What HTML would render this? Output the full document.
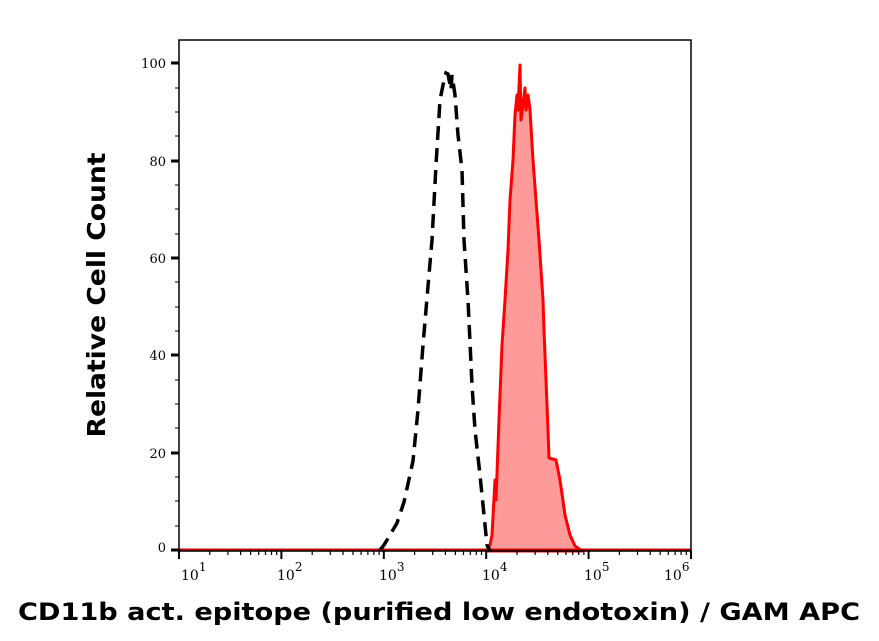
<!DOCTYPE html>
<html><head><meta charset="utf-8"><style>
body{margin:0;background:#fff;}
svg{display:block;}
</style></head><body>
<svg width="879" height="641" viewBox="0 0 879 641" xmlns="http://www.w3.org/2000/svg">
<defs>
<g id="dec" stroke="#000" stroke-width="1.2">
<line x1="0" y1="551" x2="0" y2="559" stroke-width="2"/>
<line x1="30.8" y1="551" x2="30.8" y2="555"/><line x1="48.9" y1="551" x2="48.9" y2="555"/><line x1="61.6" y1="551" x2="61.6" y2="555"/><line x1="71.6" y1="551" x2="71.6" y2="555"/><line x1="79.7" y1="551" x2="79.7" y2="555"/><line x1="86.5" y1="551" x2="86.5" y2="555"/><line x1="92.5" y1="551" x2="92.5" y2="555"/><line x1="97.7" y1="551" x2="97.7" y2="555"/>
</g>
</defs>
<rect width="879" height="641" fill="#fff"/>
<path d="M487,551 L490,545 L492,535 L495,480 L496,500 L499,420 L502,345 L505,300 L508,250 L510,200 L513,160 L515,115 L517,95 L518,110 L520,65 L521,120 L523,105 L525,88 L526,110 L528,95 L530,110 L533,160 L536,200 L539,240 L541,270 L543,300 L544,330 L546,380 L548,430 L549,458 L556,460 L560,480 L565,515 L570,535 L575,546 L582,551 Z" fill="#ff9a9a" stroke="#ff0000" stroke-width="3" stroke-linejoin="round"/>
<line x1="179" y1="550" x2="691" y2="550" stroke="#cc0000" stroke-width="3"/>
<path d="M380,550 L384,545 L390,535 L397,523 L404,502 L413,461 L418,410 L423,345 L427,298 L432,240 L436,165 L440,100 L443,85 L446,73 L448,74 L451,90 L452,75 L455,95 L458,135 L462,170 L464,240 L468,300 L472,385 L475,430 L480,475 L485,525 L487,545 L490,551" fill="none" stroke="#000" stroke-width="3.5" stroke-dasharray="14,8"/>
<rect x="179" y="40" width="512" height="511" fill="none" stroke="#000" stroke-width="1.5"/>
<g stroke="#000" stroke-width="3">
<line x1="171" y1="63" x2="179" y2="63"/><line x1="171" y1="161" x2="179" y2="161"/><line x1="171" y1="258" x2="179" y2="258"/><line x1="171" y1="355" x2="179" y2="355"/><line x1="171" y1="453" x2="179" y2="453"/><line x1="171" y1="550" x2="179" y2="550"/>
</g>
<g stroke="#000" stroke-width="1">
<line x1="175" y1="88" x2="179" y2="88"/><line x1="175" y1="112" x2="179" y2="112"/><line x1="175" y1="136" x2="179" y2="136"/>
<line x1="175" y1="185" x2="179" y2="185"/><line x1="175" y1="209" x2="179" y2="209"/><line x1="175" y1="234" x2="179" y2="234"/>
<line x1="175" y1="282" x2="179" y2="282"/><line x1="175" y1="307" x2="179" y2="307"/><line x1="175" y1="331" x2="179" y2="331"/>
<line x1="175" y1="380" x2="179" y2="380"/><line x1="175" y1="404" x2="179" y2="404"/><line x1="175" y1="428" x2="179" y2="428"/>
<line x1="175" y1="477" x2="179" y2="477"/><line x1="175" y1="501" x2="179" y2="501"/><line x1="175" y1="526" x2="179" y2="526"/>
</g>
<use href="#dec" x="179"/><use href="#dec" x="281.4"/><use href="#dec" x="383.8"/><use href="#dec" x="486.2"/><use href="#dec" x="588.6"/>
<line x1="691" y1="551" x2="691" y2="559" stroke="#000" stroke-width="2"/>
<g font-family="DejaVu Serif, serif" font-size="13" text-anchor="end" fill="#000">
<text x="166" y="68">100</text><text x="166" y="166">80</text><text x="166" y="263">60</text><text x="166" y="360">40</text><text x="166" y="458">20</text><text x="166" y="552">0</text>
</g>
<g font-family="DejaVu Serif, serif" font-size="14" fill="#000">
<text x="181" y="580">10<tspan font-size="12" dy="-9">1</tspan></text>
<text x="277" y="580">10<tspan font-size="12" dy="-9">2</tspan></text>
<text x="379" y="580">10<tspan font-size="12" dy="-9">3</tspan></text>
<text x="482" y="580">10<tspan font-size="12" dy="-9">4</tspan></text>
<text x="584" y="580">10<tspan font-size="12" dy="-9">5</tspan></text>
<text x="664" y="580">10<tspan font-size="12" dy="-9">6</tspan></text>
</g>
<text x="105" y="295" transform="rotate(-90 105 295)" text-anchor="middle" font-family="DejaVu Sans, sans-serif" font-weight="bold" font-size="25" fill="#000" textLength="285" lengthAdjust="spacingAndGlyphs">Relative Cell Count</text>
<text x="439" y="620" text-anchor="middle" font-family="DejaVu Sans, sans-serif" font-weight="bold" font-size="24" fill="#000" textLength="842" lengthAdjust="spacingAndGlyphs">CD11b act. epitope (purified low endotoxin) / GAM APC</text>
</svg>
</body></html>
